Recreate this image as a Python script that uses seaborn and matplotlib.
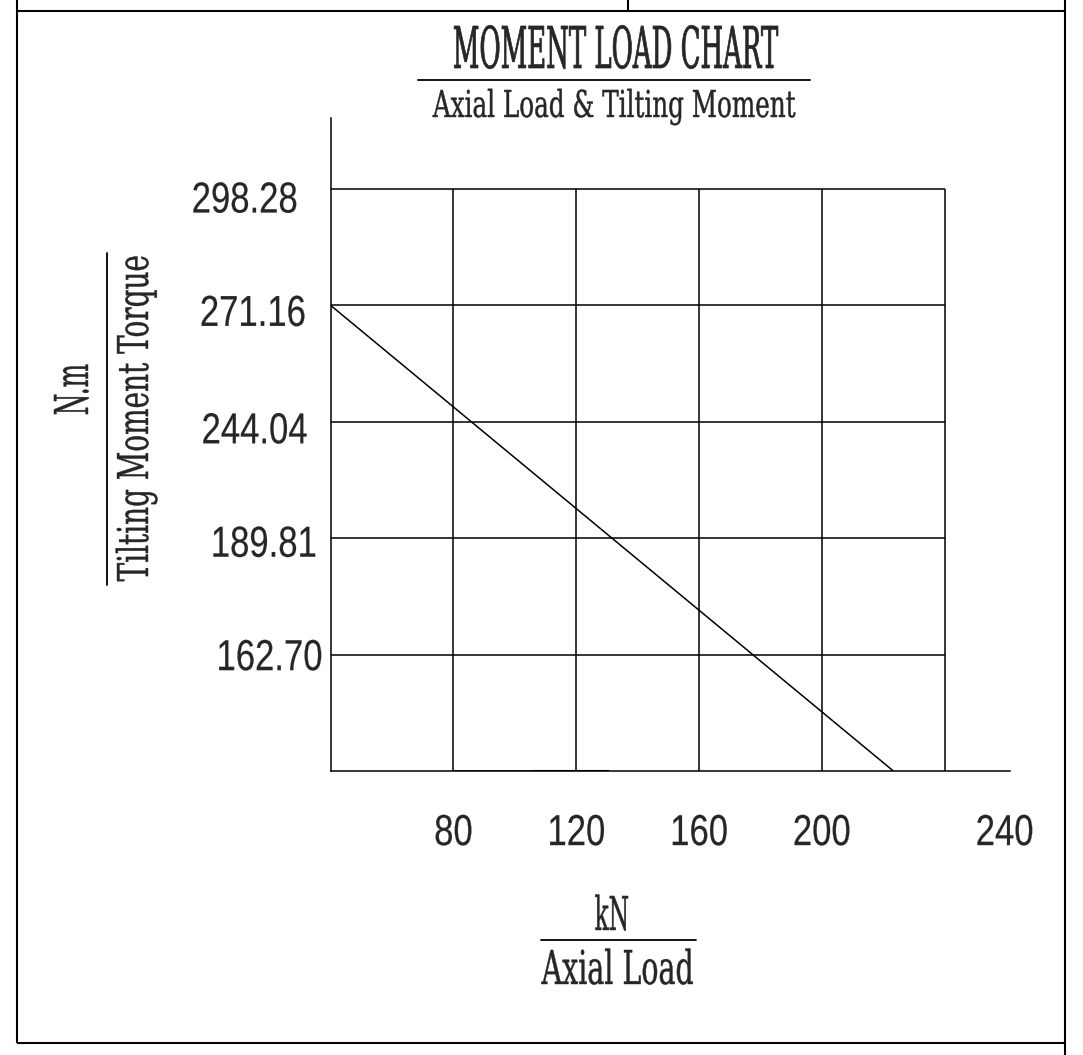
import matplotlib
matplotlib.use("Agg")
import matplotlib.pyplot as plt
import matplotlib.transforms as mtransforms
from matplotlib.patheffects import AbstractPathEffect
import seaborn as sns

# Chart values
x_ticks = [80, 120, 160, 200, 240]
x_ticklabels = ["80", "120", "160", "200", "240"]
y_rows = [1, 2, 3, 4, 5]  # grid rows above the axis, bottom to top
y_ticklabels = ["162.70", "189.81", "244.04", "271.16", "298.28"]

axial_load = [40, 223.3]  # kN
moment_row = [4, 0]       # starts on the 271.16 row, ends on the axis

title = "MOMENT LOAD CHART"
subtitle = "Axial Load & Tilting Moment"
x_unit, x_name = "kN", "Axial Load"
y_unit, y_name = "N.m", "Tilting Moment Torque"

W, H = 1083, 1055  # output size in pixels


class Squeeze(AbstractPathEffect):
    """Draw text glyphs narrower (CAD style condensed lettering), optionally heavier."""

    def __init__(self, sx, anchor="center", bold=0.0):
        super().__init__()
        self.sx = sx
        self.anchor = anchor
        self.bold = bold

    def draw_path(self, renderer, gc, tpath, affine, rgbFace=None):
        ext = tpath.get_extents()
        cx = {"center": (ext.x0 + ext.x1) / 2, "right": ext.x1, "left": ext.x0}[self.anchor]
        squeeze = mtransforms.Affine2D().translate(-cx, 0).scale(self.sx, 1).translate(cx, 0)
        gc0 = renderer.new_gc()
        gc0.copy_properties(gc)
        if self.bold and rgbFace is not None:
            gc0.set_linewidth(self.bold)
            gc0.set_foreground(rgbFace)
            gc0.set_joinstyle('round')
        renderer.draw_path(gc0, tpath, squeeze + affine, rgbFace)
        gc0.restore()


sns.set_style("white")
plt.rcParams['font.family'] = ['DejaVu Serif', 'DejaVu Sans']

fig = plt.figure(figsize=(W / 100, H / 100), dpi=100)

# sheet overlay in pixel coordinates for the drawing frame and captions
sheet = fig.add_axes([0, 0, 1, 1])
sheet.set_xlim(0, W)
sheet.set_ylim(H, 0)
sheet.axis('off')

frame_kw = dict(color='black', lw=1.5, solid_capstyle='butt')
sheet.plot([16.5, 1065], [11, 11], **frame_kw)
sheet.plot([628, 628], [0, 11], **frame_kw)
sheet.plot([16.5, 16.5], [0, 1043], **frame_kw)
sheet.plot([1065, 1065], [0, H], **frame_kw)
sheet.plot([16.5, 1065], [1043, 1043], **frame_kw)

# title block
sheet.text(615, 68, title, ha='center', va='baseline', fontsize=41.5,
           path_effects=[Squeeze(0.45, bold=0.5)])
sheet.plot([418, 810], [80, 80], color='black', lw=1.3)
sheet.text(614.5, 117, subtitle, ha='center', va='baseline', fontsize=26.7,
           path_effects=[Squeeze(0.665, bold=0.3)])

# unit halves of the axis captions
sheet.text(612, 930, x_unit, ha='center', va='baseline', fontsize=33.6,
           path_effects=[Squeeze(0.5, bold=0.3)])
sheet.plot([541, 696], [940, 940], color='black', lw=1.3)
sheet.text(88, 390, y_unit, ha='center', va='baseline', rotation=90,
           rotation_mode='anchor', fontsize=33.6, path_effects=[Squeeze(0.53, bold=0.3)])
sheet.plot([107, 107], [253, 585], color='black', lw=1.3)

# chart axes
ax = fig.add_axes([330.7 / W, (H - 771) / H, (1010 - 330.7) / W, (771 - 118) / H])
ax.patch.set_alpha(0)

line_kw = dict(color='black', lw=1.1)
ax.vlines(x_ticks, 0, y_rows[-1], **line_kw)
ax.hlines(y_rows, axial_load[0], x_ticks[-1], **line_kw)
# darker overdrawn stretch of the base line
ax.hlines(0, 80, 105.5, color='black', lw=1.9)
ax.hlines(0, 105.5, 130.7, color='black', lw=1.5)

sns.lineplot(x=axial_load, y=moment_row, ax=ax, color='black', lw=1.1)

ax.set_xlim(40, 261.3)
ax.set_ylim(0, 5.61)
for side in ['top', 'right']:
    ax.spines[side].set_visible(False)
for side in ['left', 'bottom']:
    ax.spines[side].set_color('black')
    ax.spines[side].set_linewidth(1.1)

ax.set_xticks(x_ticks, x_ticklabels)
ax.set_yticks(y_rows, y_ticklabels)
ax.tick_params(axis='x', direction='out', length=10.1, width=1.1, color='black', pad=20.9)
ax.tick_params(axis='y', direction='out', length=6.5, width=1.1, color='black', pad=0)

for lab in ax.get_xticklabels():
    lab.set_fontfamily('Liberation Sans')
    lab.set_fontsize(31.2)
    lab.set_path_effects([Squeeze(0.8, bold=0.15)])
for lab in ax.get_yticklabels():
    lab.set_fontfamily('Liberation Sans')
    lab.set_fontsize(31.2)
    lab.set_path_effects([Squeeze(0.8, 'right', bold=0.15)])

# the CAD drawing places some tick numbers off their lines
last = ax.get_xticklabels()[-1]
last.set_transform(last.get_transform() + mtransforms.ScaledTranslation(0.6, 0, fig.dpi_scale_trans))
ytick_shift_px = [(1.4, 0), (-4.2, 3), (-13.6, 6), (-15.3, 5), (-23.6, 8)]
for lab, (dx, dy) in zip(ax.get_yticklabels(), ytick_shift_px):
    lab.set_transform(lab.get_transform()
                      + mtransforms.ScaledTranslation(dx / 100, -dy / 100, fig.dpi_scale_trans))

ax.set_xlabel(x_name, fontsize=33.6, ha='center', va='baseline',
              path_effects=[Squeeze(0.61, bold=0.3)])
ax.xaxis.set_label_coords(618, 984, transform=sheet.transData)
ax.set_ylabel(y_name, fontsize=30.6, ha='center', va='baseline', rotation=90,
              rotation_mode='anchor', path_effects=[Squeeze(0.656, bold=0.3)])
ax.yaxis.set_label_coords(148, 418, transform=sheet.transData)

fig.savefig('out.png', dpi=100, facecolor='white')
